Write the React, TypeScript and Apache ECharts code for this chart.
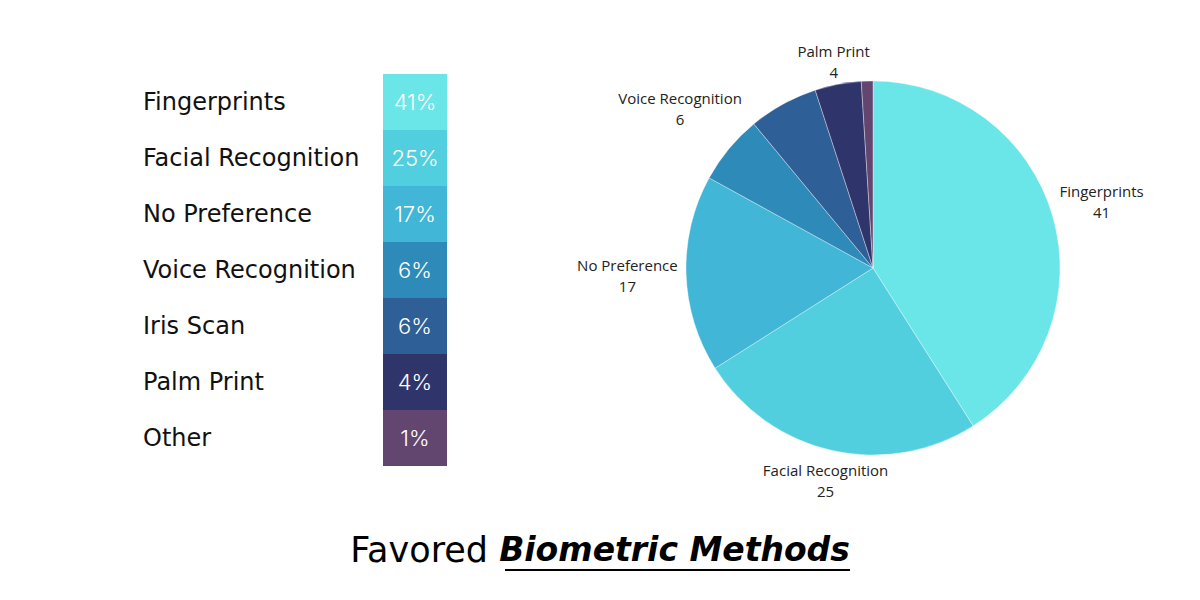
import React, { useEffect, useRef } from "react";
import * as echarts from "echarts";

const categories = ["Fingerprints", "Facial Recognition", "No Preference", "Voice Recognition", "Iris Scan", "Palm Print", "Other"];
const values = [41, 25, 17, 6, 6, 4, 1];
const colors = ["#6ae5e8", "#52cfde", "#41b6d6", "#2e8bb9", "#2e5f97", "#2f346b", "#62466f"];
const pieLabelShown = [true, true, true, true, false, true, false];

const PIE_CX = 873;
const PIE_CY = 268;
const PIE_R = 187;

export default function App() {
  const ref = useRef<HTMLDivElement>(null);
  useEffect(() => {
    if (!ref.current) return;
    const chart = echarts.init(ref.current, undefined, { renderer: "svg" });
    const total = values.reduce((a, b) => a + b, 0);
    const midAngles: number[] = [];
    let cum = 0;
    values.forEach((v) => {
      midAngles.push(90 - ((cum + v / 2) / total) * 360);
      cum += v;
    });
    chart.setOption({
      animation: false,
      backgroundColor: "#ffffff",
      title: {
        left: "center",
        top: 527,
        text: "{a|Favored }{b|Biometric Methods}",
        textStyle: {
          rich: {
            a: { fontFamily: "DejaVu Sans", fontSize: 35, color: "#000", fontWeight: 400 },
            b: { fontFamily: "DejaVu Sans", fontSize: 33, color: "#000", fontWeight: 700, fontStyle: "italic" },
          },
        },
      },
      graphic: [
        {
          type: "line",
          shape: { x1: 505, y1: 570, x2: 850, y2: 570 },
          style: { stroke: "#000", lineWidth: 2 },
        },
      ],
      grid: { left: 383, top: 74, width: 64, height: 392 },
      xAxis: { type: "value", min: 0, max: 1, show: false },
      yAxis: {
        type: "category",
        data: categories,
        inverse: true,
        axisLine: { show: false },
        axisTick: { show: false },
        splitLine: { show: false },
        axisLabel: {
          align: "left",
          margin: 240,
          fontFamily: "DejaVu Sans",
          fontSize: 24,
          color: "#111",
        },
      },
      series: [
        {
          type: "bar",
          barCategoryGap: "0%",
          data: values.map((v, i) => ({ value: 1, itemStyle: { color: colors[i] } })),
          label: {
            show: true,
            position: "inside",
            formatter: (p: any) => values[p.dataIndex] + "%",
            color: "#fff",
            fontFamily: "Inter",
            fontWeight: 300,
            fontSize: 22,
          },
        },
        {
          type: "pie",
          center: [PIE_CX, PIE_CY],
          radius: PIE_R,
          startAngle: 90,
          clockwise: true,
          avoidLabelOverlap: false,
          itemStyle: { borderColor: "rgba(255,255,255,0.6)", borderWidth: 0.6 },
          labelLine: { show: false },
          label: {
            position: "outside",
            formatter: "{b}\n{c}",
            fontFamily: "Open Sans",
            fontSize: 15,
            lineHeight: 21,
            color: "#222",
          },
          labelLayout: (p: any) => {
            const a = (midAngles[p.dataIndex] * Math.PI) / 180;
            const c = Math.cos(a);
            const s = Math.sin(a);
            const hw = p.labelRect.width / 2;
            const hh = p.labelRect.height / 2;
            const d = PIE_R + 3 + hw * Math.abs(c) * 1.1 + hh * Math.abs(s) * 0.6;
            return { x: PIE_CX + d * c, y: PIE_CY - d * s, align: "center", verticalAlign: "middle" };
          },
          emphasis: { disabled: true },
          data: categories.map((n, i) => ({
            name: n,
            value: values[i],
            itemStyle: { color: colors[i] },
            label: { show: pieLabelShown[i] },
          })),
        },
      ],
    });
    return () => chart.dispose();
  }, []);
  return <div ref={ref} style={{ position: "absolute", left: 0, top: 0, width: 1200, height: 600 }} />;
}
